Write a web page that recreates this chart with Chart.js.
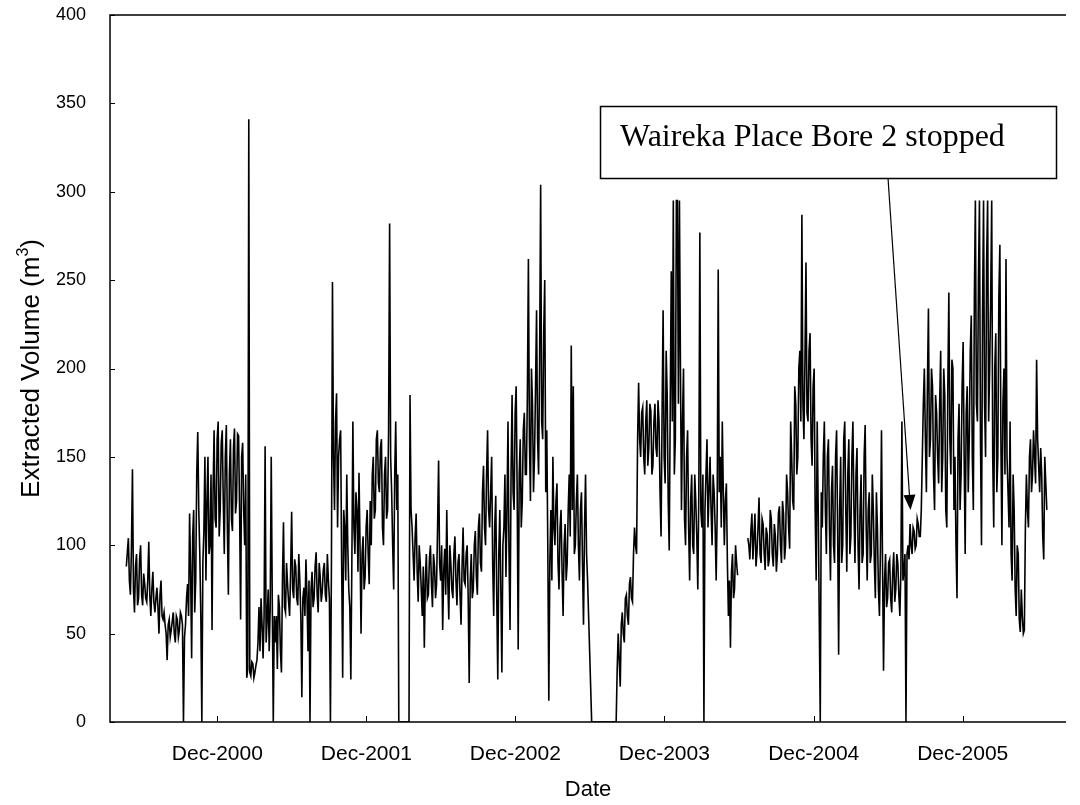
<!DOCTYPE html>
<html>
<head>
<meta charset="utf-8">
<script src="https://cdn.jsdelivr.net/npm/chart.js@4.4.1/dist/chart.umd.min.js"></script>
<style>
  html, body { margin: 0; padding: 0; background: #fff; }
  #wrap { width: 1080px; height: 805px; }
</style>
</head>
<body>
<div id="wrap"><canvas id="extractionChart" width="1080" height="805"></canvas></div>
<script>
// extracted volume (m3), a reading every 2.5 days from 22 Apr 2000
const firstReading = Date.UTC(2000, 3, 22);
const stepDays = 2.5;

const vol2000 = [88,96, 104,80, 72,98, 143,75, 62,88, 95,66, 70,92, 100,72, 66,84, 78,70,
  68,80, 102,72, 60,75, 85,68, 62,70, 76,65, 50,72, 80,60, 58,62, 55,50,
  35,55, 58,48, 52,57, 62,50, 45,60, 58,48, 52,62, 60,55, 0,48, 55,70,
  78,60, 118,85, 36,105, 120,62, 80,140, 164,120, 95,60, 0,90, 108,150, 80,125,
  150,95, 100,140, 52,130, 165,115, 110,160, 170,105, 120,158, 165,125, 95,150, 168,110,
  72,140, 160,115, 108,155, 166,118, 125,163, 162,120, 58,150, 158,120, 100,140, 25,30,
  341,28, 26,34, 33,25, 28,32, 35,45, 65,40, 70,55, 36,60, 156,45, 58,75,
  40,65, 150,70, 0,60];

const vol2001 = [45,60, 30,72, 65,40, 28,80, 113,65, 62,90, 78,68, 60,85, 119,75, 70,92,
  88,70, 66,95, 80,60, 14,70, 76,60, 92,72, 40,80, 0,75, 85,65, 70,88,
  96,72, 62,90, 82,68, 74,86, 90,72, 68,95, 80,70, 0,90, 249,150, 120,170,
  186,110, 150,160, 165,90, 25,120, 110,80, 140,100, 75,65, 24,90, 170,110, 95,130,
  120,85, 141,100, 50,95, 105,75, 82,110, 120,95, 78,125, 100,140, 150,115, 120,160,
  165,135, 130,155, 160,110, 100,140, 150,115, 120,165, 282,150, 130,100, 75,140, 170,120,
  140,0, 0,0, 0,0, 0,0, 0,0, 0,0, 185,120, 110,95, 80,105, 118,85,
  68,100, 90,75, 60,88];

const vol2002 = [42,80, 95,70, 72,92, 100,78, 65,95, 88,70, 78,110, 148,90, 80,100, 52,85,
  98,72, 120,80, 58,100, 90,75, 70,95, 105,80, 66,90, 95,72, 55,88, 110,80,
  78,95, 100,70, 22,80, 95,70, 75,100, 108,82, 72,110, 118,90, 85,130, 145,110,
  100,140, 165,120, 110,130, 150,90, 60,110, 128,70, 24,95, 120,75, 28,100, 110,140,
  82,120, 170,95, 52,140, 185,130, 120,175, 190,130, 41,140, 160,110, 125,165, 175,140,
  140,185, 262,160, 125,200, 180,130, 150,190, 233,160, 140,205, 304,170, 160,220, 250,130,
  165,100, 12,90, 120,80, 150,110, 100,125, 135,90, 75,110, 120,85, 60,100, 112,80,
  90,120, 140,105, 213,120];

const vol2003 = [190,95, 100,125, 140,100, 80,120, 130,90, 55,110, 140,95, 80,60, 40,20, 0,0,
  0,0, 0,0, 0,0, 0,0, 0,0, 0,0, 0,0, 0,0, 0,0, 0,0,
  0,0, 0,30, 50,35, 20,55, 62,50, 45,70, 72,60, 55,78, 82,70, 68,95,
  110,100, 95,160, 192,160, 150,175, 178,150, 140,170, 182,145, 155,180, 176,140, 145,170,
  180,155, 150,182, 170,130, 105,175, 233,150, 135,210, 185,125, 97,180, 255,170, 295,140,
  160,295, 295,180, 295,200, 120,170, 200,115, 100,150, 165,110, 80,125, 140,100, 95,140,
  125,105, 75,130, 277,120, 110,140, 0,120, 140,160, 110,130, 150,120, 100,140, 130,110,
  80,120, 256,130, 150,110];

// null = no record
const vol2004 = [170,130, 100,125, 135,90, 60,80, 42,85, 95,70, 75,100, 90,83, null,null, null,null,
  null,null, null,null, null,104, 100,92, 108,118, 92,105, 118,88, 96,110, 127,95, 90,115,
  112,96, 86,110, 106,88, 92,120, 115,95, 88,112, 105,85, 95,118, 122,100, 90,125,
  118,92, 100,140, 130,110, 98,170, 150,125, 120,190, 180,140, 150,200, 210,170, 287,180,
  160,205, 260,175, 170,210, 220,160, 145,190, 200,120, 80,170, 120,60, 0,130, 110,150,
  170,120, 95,150, 160,110, 80,130, 145,100, 90,150, 165,110, 38,120, 150,90, 100,160,
  170,120, 85,140, 160,95, 105,150, 170,120, 90,140, 155,100, 75,120, 140,90, 95,150,
  168,110, 80,120, 130,90];

const vol2005 = [95,140, 120,90, 70,130, 110,75, 60,100, 165,90, 29,80, 95,65, 70,90, 92,70,
  62,85, 96,68, 75,95, 90,72, 60,85, 170,80, 85,95, 0,95, 100,92, 112,100,
  95,110, 108,98, 100,115, 112,105, 105,120, 150,180, 200,160, 130,190, 234,150, 160,200,
  190,140, 120,185, 175,150, 135,180, 210,130, 150,200, 185,120, 110,190, 243,160, 140,205,
  200,120, 150,100, 70,160, 180,120, 140,190, 215,150, 95,175, 190,130, 160,210, 230,150,
  120,240, 295,180, 170,250, 295,160, 100,230, 295,180, 150,260, 295,170, 200,240, 295,150,
  110,200, 220,130, 150,240, 270,160, 100,180, 200,140, 262,150, 130,110, 170,95, 80,140,
  120,75, 60,100, 95,58];

const vol2006 = [51,75, 60,50, 52,110, 140,120, 110,150, 160,130, 140,165, 150,135, 205,160,
  145,130, 155,140, 105,92, 150,135, 120];

const tickYears = [2000, 2001, 2002, 2003, 2004, 2005];
const yTicks = [0, 50, 100, 150, 200, 250, 300, 350, 400];

const DAY = 86400000;
const readings = [].concat(vol2000, vol2001, vol2002, vol2003, vol2004, vol2005, vol2006);
const points = readings.map((v, i) => ({ x: firstReading + i * stepDays * DAY, y: v }));

const stopDate = Date.UTC(2005, 6, 26);
const stopVolume = 120;

const sans = '"Liberation Sans", Arial, sans-serif';
const serif = '"Liberation Serif", "Times New Roman", serif';

// frame, inward ticks, axis titles and the bore note
const decorations = {
  id: 'decorations',
  afterDraw(chart) {
    const ctx = chart.ctx;
    const a = chart.chartArea;
    const xs = chart.scales.x, ys = chart.scales.y;
    ctx.save();
    ctx.strokeStyle = '#000';
    ctx.lineWidth = 1.5;
    ctx.beginPath();
    ctx.moveTo(a.right, a.top);
    ctx.lineTo(a.left, a.top);
    ctx.lineTo(a.left, a.bottom);
    ctx.lineTo(a.right, a.bottom);
    ctx.stroke();

    ctx.lineWidth = 1;
    ctx.beginPath();
    yTicks.forEach(v => {
      const y = Math.round(ys.getPixelForValue(v)) + 0.5;
      ctx.moveTo(a.left, y);
      ctx.lineTo(a.left + 5, y);
    });
    tickYears.forEach(yr => {
      const x = Math.round(xs.getPixelForValue(Date.UTC(yr, 11, 1))) + 0.5;
      ctx.moveTo(x, a.bottom);
      ctx.lineTo(x, a.bottom - 6);
    });
    ctx.stroke();

    // axis titles
    ctx.fillStyle = '#000';
    ctx.font = '22px ' + sans;
    ctx.textAlign = 'center';
    ctx.textBaseline = 'middle';
    ctx.fillText('Date', (a.left + a.right) / 2, 790);

    ctx.save();
    ctx.translate(30, (a.top + a.bottom) / 2);
    ctx.rotate(-Math.PI / 2);
    const main = 'Extracted Volume (m';
    const bigFont = '26px ' + sans;
    const supFont = '16px ' + sans;
    ctx.font = bigFont;
    const w1 = ctx.measureText(main).width;
    const w3 = ctx.measureText(')').width;
    ctx.font = supFont;
    const w2 = ctx.measureText('3').width;
    const x0 = -(w1 + w2 + w3) / 2;
    ctx.textAlign = 'left';
    ctx.textBaseline = 'alphabetic';
    ctx.font = bigFont;
    ctx.fillText(main, x0, 9);
    ctx.font = supFont;
    ctx.fillText('3', x0 + w1, -2);
    ctx.font = bigFont;
    ctx.fillText(')', x0 + w1 + w2, 9);
    ctx.restore();

    // note box with arrow
    ctx.lineWidth = 1.5;
    ctx.strokeRect(600.5, 106.5, 456, 72);
    ctx.font = '32px ' + serif;
    ctx.textAlign = 'left';
    ctx.textBaseline = 'alphabetic';
    ctx.fillText('Waireka Place Bore 2 stopped', 620, 146);

    const tx = xs.getPixelForValue(stopDate);
    const ty = ys.getPixelForValue(stopVolume);
    const sx = 888, sy = 178;
    const ang = Math.atan2(ty - sy, tx - sx);
    const len = 15, half = 6;
    const bx = tx - len * Math.cos(ang), by = ty - len * Math.sin(ang);
    ctx.lineWidth = 1.2;
    ctx.beginPath();
    ctx.moveTo(sx, sy);
    ctx.lineTo(bx, by);
    ctx.stroke();
    ctx.beginPath();
    ctx.moveTo(tx, ty);
    ctx.lineTo(bx + half * Math.sin(ang), by - half * Math.cos(ang));
    ctx.lineTo(bx - half * Math.sin(ang), by + half * Math.cos(ang));
    ctx.closePath();
    ctx.fill();
    ctx.restore();
  }
};

const ctx = document.getElementById('extractionChart').getContext('2d');
window.extractionChart = new Chart(ctx, {
  type: 'line',
  data: {
    datasets: [{
      label: 'Extracted Volume',
      data: points,
      borderColor: '#000',
      borderWidth: 1.6,
      pointRadius: 0,
      tension: 0,
      spanGaps: false,
      fill: false
    }]
  },
  options: {
    responsive: false,
    animation: false,
    layout: { padding: { top: 15, right: 14, left: 0, bottom: 0 } },
    plugins: {
      legend: { display: false },
      tooltip: { enabled: false }
    },
    scales: {
      x: {
        type: 'linear',
        min: Date.UTC(2000, 2, 13),
        max: Date.UTC(2006, 7, 11),
        grid: { display: false, drawTicks: false },
        border: { display: false },
        afterBuildTicks: scale => {
          scale.ticks = tickYears.map(yr => ({ value: Date.UTC(yr, 11, 1) }));
        },
        afterFit: scale => {
          scale.height = 83;
          scale.paddingLeft = 0;
          scale.paddingRight = 0;
        },
        ticks: {
          autoSkip: false,
          maxRotation: 0,
          padding: 20,
          color: '#000',
          font: { family: sans, size: 21 },
          callback: v => 'Dec-' + new Date(v).getUTCFullYear()
        }
      },
      y: {
        min: 0,
        max: 400,
        grid: { display: false, drawTicks: false },
        border: { display: false },
        afterFit: scale => {
          scale.width = 110;
          scale.paddingTop = 0;
          scale.paddingBottom = 0;
        },
        ticks: {
          stepSize: 50,
          padding: 24,
          color: '#000',
          font: { family: sans, size: 18 }
        }
      }
    }
  },
  plugins: [decorations]
});
</script>
</body>
</html>
